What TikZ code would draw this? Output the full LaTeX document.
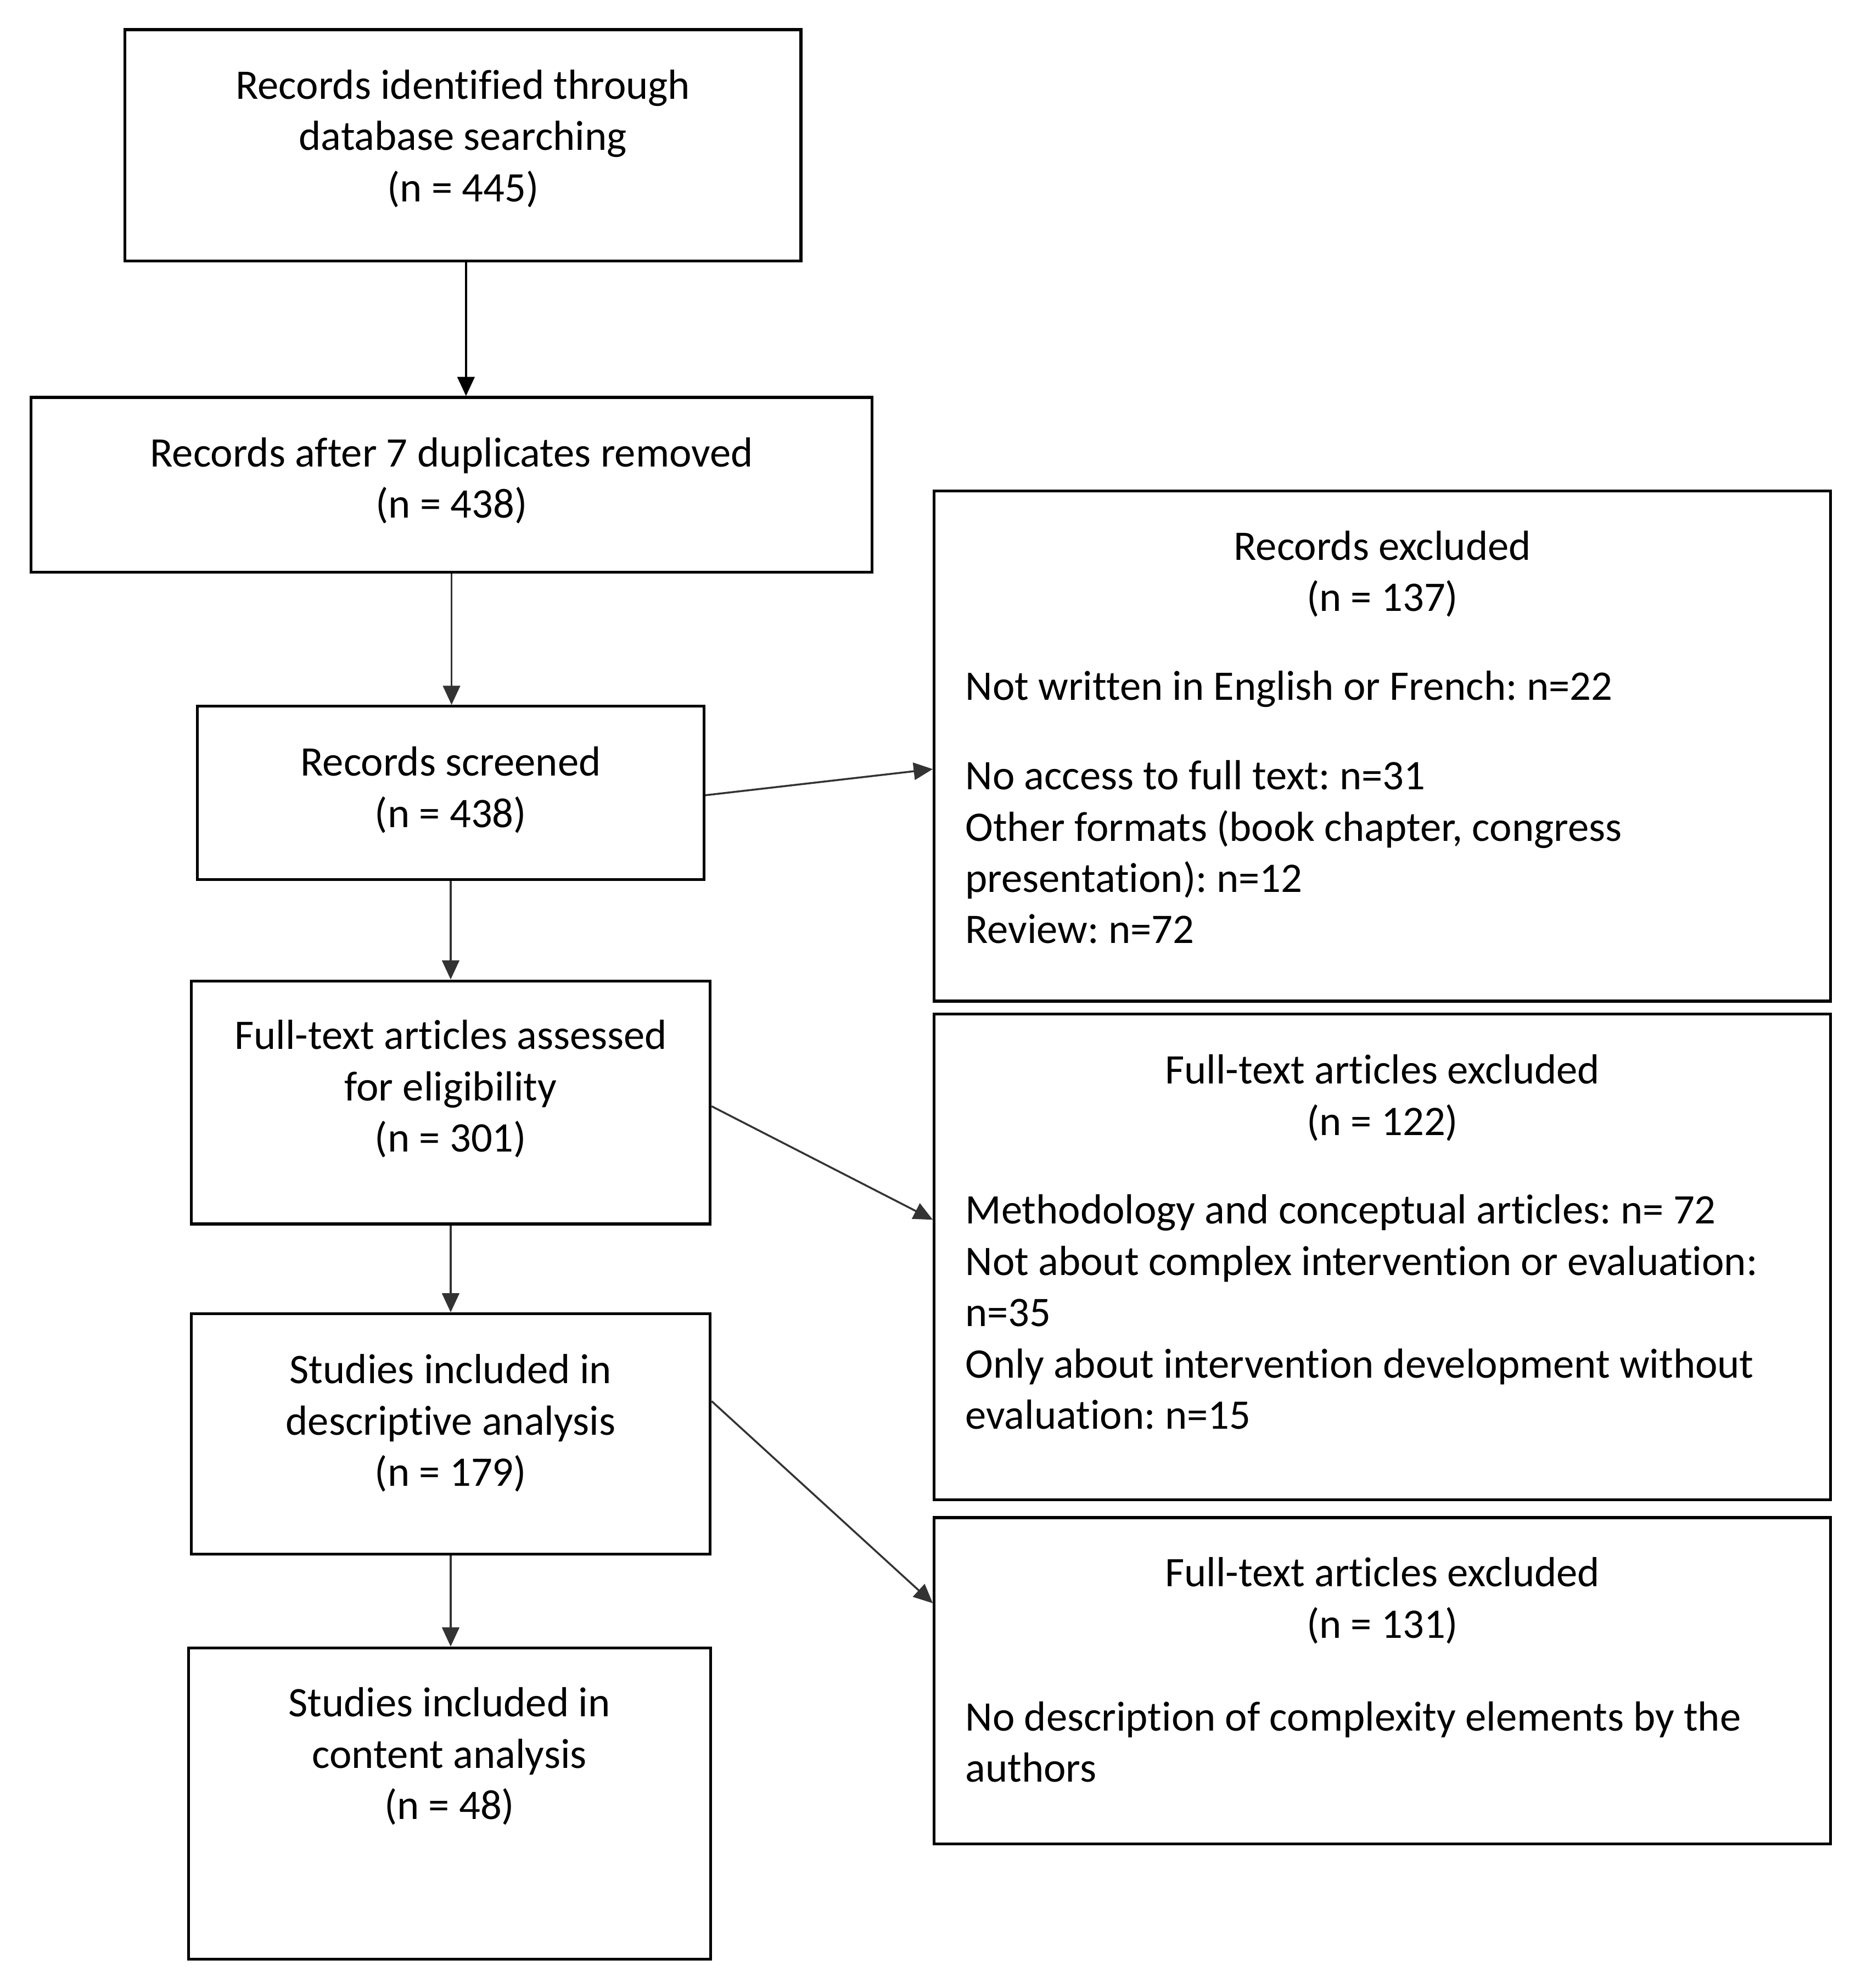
\documentclass[tikz,border=0pt]{standalone}
\usepackage{fontspec}
\setmainfont[Ligatures=NoCommon]{Carlito}
\usetikzlibrary{arrows.meta}
\def\unitpx{0.331pt}
\begin{document}
\frenchspacing
\begin{tikzpicture}[x=0.331pt, y=-0.331pt,
  box/.style={draw, line width=0.75pt, inner sep=0pt, rectangle},
  lbl/.style={inner sep=0pt, anchor=north, align=center, font=\fontsize{11}{13.4}\selectfont},
  lblL/.style={inner sep=0pt, anchor=north west, align=left, font=\fontsize{11}{13.4}\selectfont},
  arr/.style={-{Triangle[length=5pt,width=4.5pt]}, line width=0.5pt, black!80},
]
\useasboundingbox (0,0) rectangle (1470,1570.7);
% left column boxes
\node[box, minimum width=534*\unitpx, minimum height=182.7*\unitpx] (b1) at (365.7,114.75) {};
\node[box, minimum width=664.5*\unitpx, minimum height=138*\unitpx] (b2) at (356.7,383) {};
\node[box, minimum width=400*\unitpx, minimum height=137*\unitpx] (b3) at (356,626.5) {};
\node[box, minimum width=410*\unitpx, minimum height=192*\unitpx] (b4) at (356,871) {};
\node[box, minimum width=410*\unitpx, minimum height=190*\unitpx] (b5) at (356,1133) {};
\node[box, minimum width=412.5*\unitpx, minimum height=246*\unitpx] (b6) at (355.2,1425) {};
% right column boxes
\node[box, minimum width=708*\unitpx, minimum height=403*\unitpx] (r1) at (1092,589.5) {};
\node[box, minimum width=708*\unitpx, minimum height=384*\unitpx] (r2) at (1092,993) {};
\node[box, minimum width=708*\unitpx, minimum height=258*\unitpx] (r3) at (1092,1328) {};
% left texts
\node[lbl] (t1) at (365.7,47.4) {\rule{0pt}{10pt}Records identified through\\database searching\\(n = 445)};
\node[lbl] (t2) at (356.7,338) {\rule{0pt}{10pt}Records after 7 duplicates removed\\(n = 438)};
\node[lbl] (t3) at (356,582.3) {\rule{0pt}{10pt}Records screened\\(n = 438)};
\node[lbl] (t4) at (356,798.3) {\rule{0pt}{10pt}Full-text articles assessed\\for eligibility\\(n = 301)};
\node[lbl] (t5) at (356,1062.3) {\rule{0pt}{10pt}Studies included in\\descriptive analysis\\(n = 179)};
\node[lbl] (t6) at (355,1325.6) {\rule{0pt}{10pt}Studies included in\\content analysis\\(n = 48)};
% right texts
\node[lbl] (rt1) at (1092,411.7) {\rule{0pt}{10pt}Records excluded\\(n = 137)};
\node[lbl] (rt2) at (1092,825.6) {\rule{0pt}{10pt}Full-text articles excluded\\(n = 122)};
\node[lbl] (rt3) at (1092,1222.8) {\rule{0pt}{10pt}Full-text articles excluded\\(n = 131)};
\node[lblL] (rb1) at (762,522.4) {\rule{0pt}{10pt}Not written in English or French: n=22\\[10pt]No access to full text: n=31\\Other formats (book chapter, congress\\presentation): n=12\\Review: n=72};
\node[lblL] (rb2) at (762,936.2) {\rule{0pt}{10pt}Methodology and conceptual articles: n= 72\\Not about complex intervention or evaluation:\\n=35\\Only about intervention development without\\evaluation: n=15};
\node[lblL] (rb3) at (762,1336.6) {\rule{0pt}{10pt}No description of complexity elements by the\\authors};
% connectors
\draw[arr, black, line width=0.55pt] ([xshift=0.8pt]b1.south) -- ([xshift=0.8pt]b1.south |- b2.north);
\draw[arr] (b2.south) -- (b2.south |- b3.north);
\draw[arr] (b3.south) -- (b3.south |- b4.north);
\draw[arr] (b4.south) -- (b4.south |- b5.north);
\draw[arr] (b5.south) -- (b5.south |- b6.north);
\draw[arr] ([yshift=-0.6pt]b3.east) -- ([yshift=-6pt]r1.west);
\draw[arr] ([yshift=-1pt]b4.east) -- ([yshift=9.7pt]r2.west);
\draw[arr] ([yshift=8.6pt]b5.east) -- ([yshift=20.3pt]r3.west);
\end{tikzpicture}
\end{document}
